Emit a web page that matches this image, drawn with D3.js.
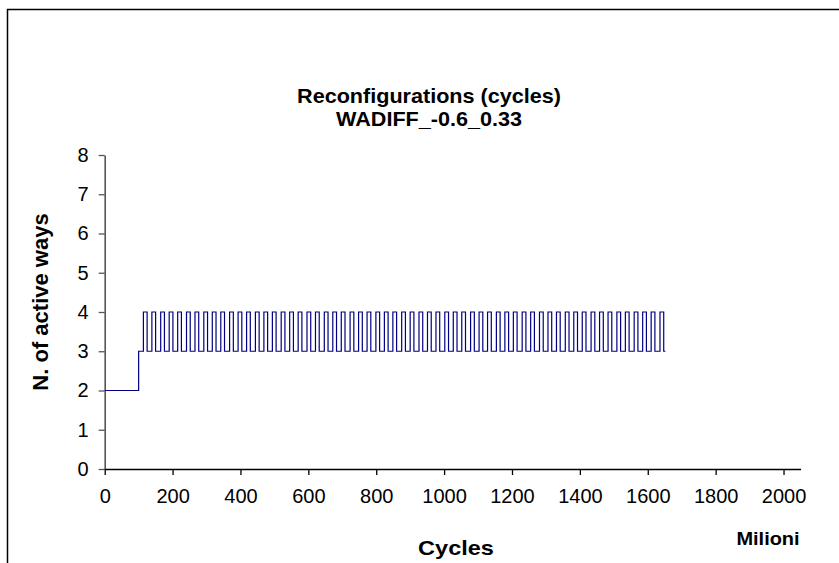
<!DOCTYPE html>
<html>
<head>
<meta charset="utf-8">
<script src="https://cdn.jsdelivr.net/npm/d3@7"></script>
<style>
  html, body { margin: 0; padding: 0; background: #fff; }
  svg { display: block; font-family: "Liberation Sans", Arial, sans-serif; }
</style>
</head>
<body>
<svg id="chart" width="839" height="563"></svg>
<script>
// ---- data ----
const titleLines = ["Reconfigurations (cycles)", "WADIFF_-0.6_0.33"];
const xTicks = [0, 200, 400, 600, 800, 1000, 1200, 1400, 1600, 1800, 2000];
const yTicks = [0, 1, 2, 3, 4, 5, 6, 7, 8];
// initial segment (cycles in millions, active ways)
const startCycles = [0, 100];
const startWays = [2, 3];
// pulses to 4 ways: start and end (millions of cycles)
const pulseStart = [114,139,165,190,215,241,266,292,317,342,368,393,418,444,469,494,520,545,570,596,
  621,647,672,697,723,748,773,799,824,849,875,900,926,951,976,1002,1027,1052,1078,1103,
  1128,1154,1179,1204,1230,1255,1281,1306,1331,1357,1382,1407,1433,1458,1483,1509,1534,1560,1585,1610,1636];
const pulseEnd = [125,150,176,201,226,252,277,303,328,353,379,404,429,455,480,505,531,556,581,607,
  632,658,683,708,734,759,784,810,835,860,886,911,937,962,987,1013,1038,1063,1089,1114,
  1139,1165,1190,1215,1241,1266,1292,1317,1342,1368,1393,1418,1444,1469,1494,1520,1545,1571,1596,1621,1647];
const pulseHigh = 4;
const pulseLow = 3;
const endCycle = 1652;

// build step series
const series = [];
startCycles.forEach((c, i) => series.push([c, startWays[i]]));
pulseStart.forEach((s, i) => {
  series.push([s, pulseHigh]);
  series.push([pulseEnd[i], pulseLow]);
});
series.push([endCycle, pulseLow]);

// ---- layout ----
const svg = d3.select("#chart");
const x = d3.scaleLinear().domain([0, 2050]).range([104.7, 800.5]);
const y = d3.scaleLinear().domain([0, 8]).range([469, 155]);
const FONT = "Liberation Sans, Arial, sans-serif";

// chart area frame (extends beyond visible window on right/bottom)
svg.append("rect")
  .attr("x", 7.5).attr("y", 9.5)
  .attr("width", 900).attr("height", 600)
  .attr("fill", "none").attr("stroke", "#000").attr("stroke-width", 1.5);

// title (slightly wide lettering, as in the reference)
svg.append("g").selectAll("text").data(titleLines).join("text")
  .attr("transform", (d, i) => `translate(429,${103 + i * 23}) scale(1.08,1)`)
  .attr("text-anchor", "middle")
  .attr("font-weight", "bold").attr("font-size", 20)
  .text(d => d);

// y axis
const yAxis = svg.append("g").attr("transform", `translate(${x(0)},0)`)
  .call(d3.axisLeft(y).tickValues(yTicks).tickSize(6).tickPadding(10).tickSizeOuter(0));
yAxis.select(".domain").attr("stroke", "#555").attr("stroke-width", 1.6);
yAxis.selectAll(".tick line").attr("stroke", "#555").attr("stroke-width", 1.3);
yAxis.selectAll(".tick text").attr("font-size", 20).attr("font-family", FONT).attr("fill", "#000");

// x axis
const xAxis = svg.append("g").attr("transform", `translate(0,${y(0)})`)
  .call(d3.axisBottom(x).tickValues(xTicks).tickFormat(d3.format("d"))
    .tickSize(6).tickPadding(14).tickSizeOuter(0));
xAxis.select(".domain").attr("stroke", "#000").attr("stroke-width", 1.6);
xAxis.selectAll(".tick line").attr("stroke", "#000").attr("stroke-width", 1.3);
xAxis.selectAll(".tick text").attr("font-size", 20).attr("font-family", FONT).attr("fill", "#000");

// step line
const line = d3.line().x(d => x(d[0])).y(d => y(d[1])).curve(d3.curveStepAfter);
svg.append("path").datum(series)
  .attr("d", line)
  .attr("fill", "none").attr("stroke", "#000080").attr("stroke-width", 1.2);

// axis titles
svg.append("text")
  .attr("transform", `translate(48,302) rotate(-90)`)
  .attr("text-anchor", "middle")
  .attr("font-weight", "bold").attr("font-size", 22)
  .text("N. of active ways");

svg.append("text")
  .attr("transform", `translate(456,555) scale(1.12,1)`)
  .attr("text-anchor", "middle")
  .attr("font-weight", "bold").attr("font-size", 21)
  .text("Cycles");

svg.append("text")
  .attr("transform", `translate(768,545) scale(1.05,1)`)
  .attr("text-anchor", "middle")
  .attr("font-weight", "bold").attr("font-size", 19)
  .text("Milioni");
</script>
</body>
</html>
